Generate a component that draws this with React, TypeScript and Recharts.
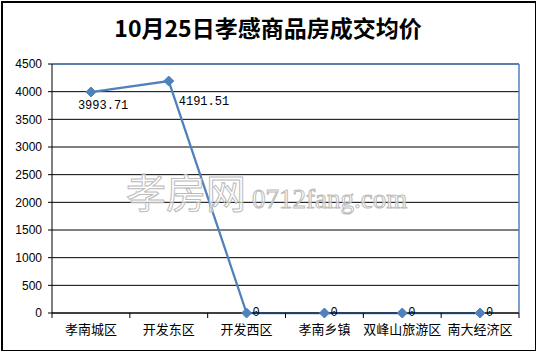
import React from 'react';
import {
  LineChart,
  Line,
  XAxis,
  YAxis,
  CartesianGrid,
  ReferenceLine,
} from 'recharts';

const districts = ['孝南城区', '开发东区', '开发西区', '孝南乡镇', '双峰山旅游区', '南大经济区'];
const avgPrice = [3993.71, 4191.51, 0, 0, 0, 0];
const yTicks = [0, 500, 1000, 1500, 2000, 2500, 3000, 3500, 4000, 4500];
const boundaryTicks = [0, 1, 2, 3, 4, 5, 6];

const BLUE = '#4f81bd';

const chartData = districts.map((name, i) => ({ name, value: avgPrice[i], pos: i + 0.5 }));

const Diamond = (props: any) => {
  const { cx, cy } = props;
  if (cx == null || cy == null) return null;
  const r = 5;
  return (
    <polygon
      points={`${cx},${cy - r} ${cx + r},${cy} ${cx},${cy + r} ${cx - r},${cy}`}
      fill={BLUE}
      stroke={BLUE}
    />
  );
};

// excel put the first two labels in odd spots, the zeros go to the right
const PointLabel = (props: any) => {
  const { x, y, value, index } = props;
  let tx = x + 6;
  let ty = y + 3;
  if (index === 0) {
    tx = x - 13;
    ty = y + 17;
  } else if (index === 1) {
    tx = x + 10;
    ty = y + 24;
  }
  return (
    <text x={tx} y={ty} fontSize={12} fontFamily="'Liberation Mono', monospace" fill="#000">
      {value === 0 ? '0' : value.toFixed(2)}
    </text>
  );
};

const NoTick = () => <g />;

export default function App() {
  return (
    <div style={{ position: 'relative', width: 536, height: 351 }}>
      <style>{'body{margin:0}'}</style>
      <div
        style={{
          position: 'absolute',
          left: 1,
          top: 1,
          width: 532,
          height: 347,
          border: '2px solid #000',
          boxSizing: 'content-box',
        }}
      />
      <div
        style={{
          position: 'absolute',
          left: 0,
          top: 12,
          width: 536,
          textAlign: 'center',
          fontFamily: "'Noto Sans CJK SC', sans-serif",
          fontWeight: 'bold',
          fontSize: 23,
          lineHeight: '30px',
          color: '#000',
        }}
      >
        10月25日孝感商品房成交均价
      </div>
      <div style={{ position: 'absolute', left: 0, top: 0 }}>
        <LineChart
          width={536}
          height={351}
          data={chartData}
          margin={{ top: 64, right: 17, bottom: 0, left: 0 }}
        >
          <CartesianGrid xAxisId="b" vertical={false} stroke="#000" strokeWidth={1} />
          {/* boundary tick marks, sits right on the plot bottom */}
          <XAxis
            xAxisId="a"
            dataKey="pos"
            type="number"
            domain={[0, 6]}
            ticks={boundaryTicks}
            tick={<NoTick />}
            height={5}
            tickSize={5}
            tickMargin={0}
            axisLine={{ stroke: '#000' }}
            tickLine={{ stroke: '#000' }}
          />
          <XAxis
            xAxisId="b"
            dataKey="name"
            scale="band"
            height={33}
            axisLine={false}
            tickLine={false}
            tickSize={0}
            tickMargin={7}
            interval={0}
            tick={{ fontSize: 13, fill: '#000', fontFamily: "'Noto Sans CJK SC', sans-serif" }}
          />
          <YAxis
            width={52}
            domain={[0, 4500]}
            ticks={yTicks}
            interval={0}
            tickSize={4}
            tickMargin={6}
            axisLine={{ stroke: '#000' }}
            tickLine={{ stroke: '#000' }}
            tick={{ fontSize: 12, fill: '#000', fontFamily: "'Liberation Sans', Arial, sans-serif" }}
          />
          <ReferenceLine xAxisId="b" y={4500} stroke={BLUE} strokeWidth={1.5} />
          <ReferenceLine xAxisId="a" x={6} stroke={BLUE} strokeWidth={1.5} />
          <Line
            xAxisId="b"
            type="linear"
            dataKey="value"
            stroke={BLUE}
            strokeWidth={2.25}
            dot={<Diamond />}
            label={<PointLabel />}
            isAnimationActive={false}
          />
        </LineChart>
      </div>
      <svg
        width={536}
        height={351}
        style={{ position: 'absolute', left: 0, top: 0, pointerEvents: 'none' }}
      >
        <text
          x={126}
          y={208}
          fontSize={40}
          fontFamily="'Noto Sans CJK SC', sans-serif"
          fill="#fff"
          fillOpacity={0.6}
          stroke="#bbb"
          strokeWidth={1}
        >
          孝房网
        </text>
        <text
          x={252}
          y={208}
          fontSize={27}
          fontFamily="'Liberation Serif', serif"
          fill="#fff"
          fillOpacity={0.6}
          stroke="#bbb"
          strokeWidth={1}
        >
          0712fang.com
        </text>
      </svg>
    </div>
  );
}
